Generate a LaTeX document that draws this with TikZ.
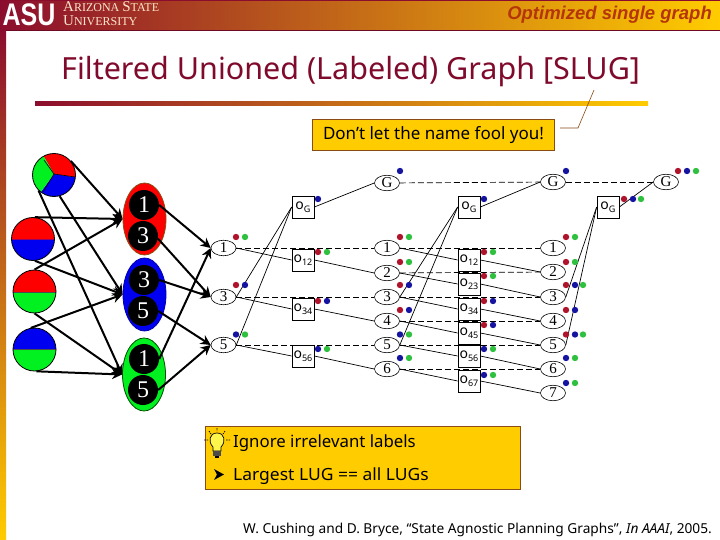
\documentclass[tikz,border=0pt]{standalone}
\usepackage{fontspec}
\setmainfont{Noto Sans}
\newfontfamily\serf{Liberation Serif}
\newfontfamily\arial{Liberation Sans}
\usetikzlibrary{arrows.meta,shapes.geometric}
\definecolor{dred}{HTML}{8B0D2E}
\definecolor{mido}{HTML}{DA9819}
\definecolor{gold}{HTML}{FFCC00}
\definecolor{brownb}{HTML}{8A4B14}
\definecolor{titlec}{HTML}{7F0A2C}
\definecolor{optc}{HTML}{B5350A}
\definecolor{dotr}{HTML}{B0142C}
\definecolor{dotb}{HTML}{1414A0}
\definecolor{dotg}{HTML}{30C040}
\definecolor{pr}{HTML}{FF0000}
\definecolor{pb}{HTML}{0000F0}
\definecolor{pg}{HTML}{00F020}
\tikzset{
  lev/.style={ellipse,draw=black,fill=white,line width=.6pt,minimum width=25pt,minimum height=15.5pt,inner sep=0pt,font=\serf\fontsize{15}{15}\selectfont},
  opb/.style={rectangle,draw=black,fill=white,line width=.7pt,minimum width=22pt,minimum height=22pt,inner sep=0pt,font=\fontsize{14}{14}\selectfont},
  noop/.style={draw=black,line width=.7pt,dash pattern=on 6pt off 3pt},
  act/.style={draw=black,line width=.7pt},
  thickar/.style={draw=black,line width=2pt,-{Stealth[length=10pt,width=10pt]}},
  bigc/.style={circle,draw=black,line width=.8pt,minimum size=43pt,inner sep=0pt},
  blob/.style={ellipse,line width=.8pt,inner sep=0pt,minimum width=43pt,minimum height=72pt},
  prop/.style={circle,fill=black,minimum size=30pt,inner sep=0pt,text=white,font=\serf\fontsize{24}{24}\selectfont},
  noteb/.style={rectangle,draw=brownb,fill=gold,line width=.8pt,inner sep=0pt},
}
\newcommand{\op}[1]{o\raisebox{-3.5pt}{\fontsize{9}{9}\selectfont #1}}
\begin{document}
\begin{tikzpicture}[x=1pt,y=-1pt]
\useasboundingbox (0,0) rectangle (720,540);
\fill[white] (0,0) rectangle (720,540);
% header
\shade[left color=dred,middle color=mido,right color=gold] (0,0) rectangle (720,30);
\fill[dred] (0,0) rectangle (720,1);
\fill[dred!80!black] (0,30) rectangle (720,31);
\shade[top color=dred,bottom color=gold] (0,30) rectangle (6,540);
\node[anchor=center,white,font=\arial\bfseries\fontsize{25}{25}\selectfont,yscale=1.25,inner sep=0pt] (logo) at (29,15) {ASU};
\node[anchor=base west,inner sep=0pt,text=orange!20!white,font=\serf\fontsize{15}{11}\selectfont] (uni1) at (63,12) {A\fontsize{12}{11}\selectfont RIZONA \fontsize{15}{11}\selectfont S\fontsize{12}{11}\selectfont TATE};
\node[anchor=base west,inner sep=0pt,text=orange!20!white,font=\serf\fontsize{15}{11}\selectfont] (uni2) at (63,26) {U\fontsize{12}{11}\selectfont NIVERSITY};
\node[anchor=base east,inner sep=0pt,text=optc,font=\arial\bfseries\itshape\fontsize{18.5}{18.5}\selectfont] (opt) at (712,20) {Optimized single graph};
% title
\node[anchor=base west,inner sep=0pt,text=titlec,font=\fontsize{30.5}{30.5}\selectfont] (title) at (61,80) {Filtered Unioned (Labeled) Graph [SLUG]};
\shade[left color=dred,middle color=mido,right color=gold] (35,102) rectangle (648,106);
% callout
\node[noteb,minimum width=242pt,minimum height=31pt,font=\fontsize{17}{17}\selectfont] (call) at (433.5,135) {Don't let the name fool you!};
\coordinate (cA) at (560,128);
\coordinate (cB) at (578,128);
\coordinate (cC) at (594,90);
\draw[draw=brownb,line width=.6pt] (cA) -- (cB) -- (cC);
% belief circles
\begin{scope}
\clip (54,175) circle (21.5);
\fill[pr] (54,174) -- (40,150) -- (80,150) -- (80,178) -- cycle;
\fill[pb] (54,174) -- (80,178) -- (80,200) -- (35,200) -- cycle;
\fill[pg] (54,174) -- (35,200) -- (30,150) -- (40,150) -- cycle;
\draw[black,line width=.6pt] (44,160) -- (54,174) -- (75,177) (54,174) -- (43,192);
\end{scope}
\begin{scope}
\clip (33,239) circle (21.5);
\fill[pr] (10,215) rectangle (56,239);
\fill[pb] (10,239) rectangle (56,263);
\draw[draw=red!60!blue,line width=.8pt] (10,239) -- (56,239);
\end{scope}
\begin{scope}
\clip (34.5,291.5) circle (21.5);
\fill[pr] (10,268) rectangle (58,292);
\fill[pg] (10,292) rectangle (58,315);
\draw[black!70,line width=.6pt] (10,292) -- (58,292);
\end{scope}
\begin{scope}
\clip (34.5,349.5) circle (21.5);
\fill[pb] (10,326) rectangle (58,349);
\fill[pg] (10,349) rectangle (58,374);
\draw[black!70,line width=.6pt] (10,349) -- (58,349);
\end{scope}
\node[bigc] (c1) at (54,175) {};
\node[bigc] (c2) at (33,239) {};
\node[bigc] (c3) at (34.5,291.5) {};
\node[bigc] (c4) at (34.5,349.5) {};
% blobs
\node[blob,fill=pr,draw=brownb] (br) at (144.5,219) {};
\node[blob,fill=pb,draw=pb!70!black,minimum height=73pt] (bb) at (144.5,294.5) {};
\node[blob,fill=pg,draw=black!70!green,minimum height=73pt] (bg) at (144,374.5) {};
\node[prop] (p1) at (144,205) {1};
\node[prop] (p3) at (143,236) {3};
\node[prop] (q3) at (144,280) {3};
\node[prop] (q5) at (143,311) {5};
\node[prop] (r1) at (144,359) {1};
\node[prop] (r5) at (143,390) {5};
% planning graph nodes
\foreach \n/\y in {1/248,3/297,5/345}{\node[lev] (a\n) at (223.5,\y) {\n};}
\foreach \n/\y in {1/248,2/273,3/297,4/321,5/345,6/369}{\node[lev] (b\n) at (387,\y) {\n};}
\node[lev] (G1) at (387,183) {G};
\foreach \n/\y in {1/248,2/272,3/297,4/321,5/345,6/369,7/393}{\node[lev] (d\n) at (553,\y) {\n};}
\node[lev] (G2) at (553,182) {G};
\node[lev] (G3) at (666,182) {G};
% noop edges
\foreach \i in {1,3,5}{\draw[noop] (a\i) -- (b\i);}
\foreach \i in {1,...,6}{\draw[noop] (b\i) -- (d\i);}
\draw[noop] (G1) -- (G2);
\draw[noop] (G2) -- (G3);
% op boxes
\node[opb] (oa0) at (303,207) {\op{G}};
\node[opb] (oa12) at (303,260) {\op{12}};
\node[opb] (oa34) at (303,309) {\op{34}};
\node[opb] (oa56) at (303,356) {\op{56}};
\node[opb] (ob0) at (469,207) {\op{G}};
\node[opb] (ob12) at (469,260) {\op{12}};
\node[opb] (ob23) at (469,284) {\op{23}};
\node[opb] (ob34) at (469,309) {\op{34}};
\node[opb] (ob45) at (469,333) {\op{45}};
\node[opb] (ob56) at (469,356) {\op{56}};
\node[opb] (ob67) at (469,381) {\op{67}};
\node[opb] (oc0) at (608,207) {\op{G}};
% action edges
\foreach \x/\o/\y in {1/12/2,3/34/4,5/56/6}{
  \draw[act] (a\x.east) -- (oa\o.west);
  \draw[act] (oa\o.east) -- (b\y.west);
}
\foreach \x/\o/\y in {1/12/2,2/23/3,3/34/4,4/45/5,5/56/6,6/67/7}{
  \draw[act] (b\x.east) -- (ob\o.west);
  \draw[act] (ob\o.east) -- (d\y.west);
}
\draw[act] (a3.east) -- (oa0.west);
\draw[act] (a5.east) -- (oa0.west);
\draw[act] (b3.east) -- (ob0.west);
\draw[act] (b5.east) -- (ob0.west);
\draw[act] (d3.east) -- (oc0.west);
\draw[act] (d5.east) -- (oc0.west);
\draw[act] (oa0.east) -- (G1.west);
\draw[act] (ob0.east) -- (G2.west);
\draw[act] (oc0.east) -- (G3.west);
% thick arrows
\draw[thickar] (c1.40) -- (br.west);
\draw[thickar] (c2.85) -- (br.west);
\draw[thickar] (c3.90) -- (br.west);
\draw[thickar] (c1.225) -- (bg.west);
\draw[thickar] (c1.285) -- (bb.west);
\draw[thickar] (c2.275) -- (bb.west);
\draw[thickar] (c4.100) -- (bb.west);
\draw[thickar] (c3.270) -- (bg.west);
\draw[thickar] (c4.275) -- (bg.west);
\draw[thickar] (p1.east) -- (a1.west);
\draw[thickar] (p3.-10) -- (a3.west);
\draw[thickar] (q3.east) -- (a3.west);
\draw[thickar] (q5.east) -- (a5.west);
\draw[thickar] (r1.east) -- (a1.west);
\draw[thickar] (r5.east) -- (a5.west);
% label dots
\foreach \x/\y/\c in {236/237/dotr,245/237/dotg,236/285/dotr,245/285/dotb,236/334.5/dotb,245/334.5/dotg,
 318/199/dotb,400/171/dotb,
 400/237/dotr,409/237/dotg,400/262/dotr,409/262/dotg,400/285/dotr,409/285/dotb,400/310/dotr,409/310/dotb,400/334.5/dotb,409/334.5/dotg,400/358/dotb,409/358/dotg,
 318/252/dotr,327/252/dotg,318/301/dotr,327/301/dotb,318/349/dotb,327/349/dotg,
 484/199/dotb,
 484/252/dotr,493/252/dotg,484/276/dotr,493/276/dotg,484/301/dotr,493/301/dotb,484/325/dotr,493/325/dotb,484/349/dotb,493/349/dotg,484/375/dotb,493/375/dotg,
 566/171/dotb,678/171/dotr,687/171/dotb,696/171/dotg,
 624/199/dotr,633/199/dotb,641/199/dotg,
 566/237/dotr,575/237/dotg,566/262/dotr,575/262/dotg,566/285/dotr,575/285/dotb,583/285/dotg,566/310/dotr,575/310/dotb,566/334.5/dotr,575/334.5/dotb,583/334.5/dotg,566/358/dotb,575/358/dotg,566/383/dotb,575/383/dotg}{
  \fill[\c] (\x,\y) circle (3.2pt);
}
% note box
\node[noteb,minimum width=315pt,minimum height=63pt] (note) at (362.5,457.5) {};
\node[anchor=base west,inner sep=0pt,font=\fontsize{16.8}{16.8}\selectfont] (n1) at (233,447) {Ignore irrelevant labels};
\node[anchor=base west,inner sep=0pt,font=\fontsize{16.8}{16.8}\selectfont,xscale=1.04] (n2) at (233,480) {Largest LUG == all LUGs};
% bullet arrow
\fill[black] (214,469) -- (224,474.5) -- (214,480) -- (217,474.5) -- cycle;
% bulb icon
\draw[draw=black,line width=.7pt,dash pattern=on 1.5pt off 1pt] (204,440) -- (208,440) (226,440) -- (230,440) (209,431) -- (211,434) (225,431) -- (223,434) (217,428) -- (217,431);
\fill[yellow!70!white,draw=black,line width=.7pt] (217,433) .. controls (209,433) and (208,442) .. (213,447) -- (213,451) -- (221,451) -- (221,447) .. controls (226,442) and (225,433) .. (217,433) -- cycle;
\fill[black!70] (213,451) rectangle (221,456);
\fill[black] (215,456) rectangle (219,458);
% citation
\node[anchor=base east,inner sep=0pt,font=\fontsize{13.7}{13.7}\selectfont] (cite) at (712,533) {W. Cushing and D. Bryce, “State Agnostic Planning Graphs”, \textit{In AAAI}, 2005.};
\end{tikzpicture}
\end{document}
